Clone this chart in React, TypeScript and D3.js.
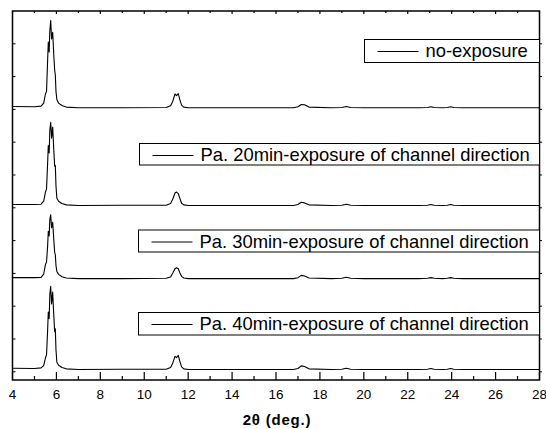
import React from "react";
import * as d3 from "d3";

// 2theta positions (deg.)
const twoTheta = [
  4.0, 5.0, 5.3, 5.42, 5.5, 5.55, 5.6, 5.63, 5.67, 5.7, 5.74, 5.78, 5.83, 5.88, 5.92, 5.95, 5.98, 6.02,
  6.1, 6.25, 6.45, 7.0, 9.0, 11.0, 11.2, 11.3, 11.4, 11.47, 11.55, 11.62, 11.7, 11.8, 12.0, 14.0,
  16.8, 17.0, 17.15, 17.3, 17.5, 18.5, 19.0, 19.2, 19.4, 20.0, 22.5, 22.9, 23.05, 23.2, 23.6, 23.8,
  23.95, 24.1, 24.5, 28.0,
];

// intensities (in tick units above each trace's own baseline)
const noExposure = [
  0.04, 0.03, 0.05, 0.14, 0.42, 0.5, 1.45, 2.0, 1.7, 2.35, 2.66, 2.1, 2.3, 1.6, 1.15, 1.0, 0.5, 0.25,
  0.14, 0.07, 0.02, 0.0, 0.0, 0.01, 0.06, 0.2, 0.42, 0.37, 0.43, 0.25, 0.08, 0.02, 0.0, 0.0,
  0.0, 0.03, 0.1, 0.09, 0.02, 0.0, 0.01, 0.04, 0.01, 0.0, 0.0, 0.01, 0.03, 0.01, 0.0, 0.01,
  0.03, 0.01, 0.0, 0.0,
];
const pa20 = [
  0.03, 0.03, 0.04, 0.13, 0.41, 0.5, 1.3, 1.83, 1.6, 2.3, 2.54, 2.05, 2.39, 1.7, 1.2, 1.22, 0.6, 0.22,
  0.13, 0.06, 0.02, 0.0, 0.01, 0.01, 0.06, 0.2, 0.38, 0.41, 0.36, 0.22, 0.07, 0.02, 0.0, 0.0,
  0.0, 0.03, 0.1, 0.08, 0.02, 0.0, 0.01, 0.04, 0.01, 0.0, 0.0, 0.01, 0.03, 0.01, 0.0, 0.01,
  0.03, 0.01, 0.0, 0.0,
];
const pa30 = [
  0.03, 0.03, 0.04, 0.14, 0.43, 0.5, 1.0, 1.44, 1.3, 1.8, 1.95, 1.55, 1.72, 1.2, 0.8, 0.73, 0.4, 0.22,
  0.13, 0.06, 0.02, 0.0, 0.0, 0.01, 0.05, 0.17, 0.3, 0.33, 0.3, 0.18, 0.07, 0.02, 0.0, 0.0,
  0.0, 0.03, 0.1, 0.08, 0.02, 0.0, 0.01, 0.04, 0.01, 0.0, 0.0, 0.01, 0.03, 0.01, 0.0, 0.01,
  0.03, 0.01, 0.0, 0.0,
];
const pa40 = [
  0.04, 0.03, 0.05, 0.12, 0.35, 0.45, 1.2, 1.75, 1.55, 2.3, 2.54, 2.0, 2.36, 1.65, 1.15, 1.24, 0.6, 0.22,
  0.13, 0.06, 0.02, 0.0, 0.01, 0.01, 0.06, 0.2, 0.4, 0.36, 0.43, 0.25, 0.08, 0.02, 0.0, 0.0,
  0.0, 0.03, 0.11, 0.09, 0.02, 0.0, 0.01, 0.04, 0.01, 0.0, 0.0, 0.01, 0.03, 0.01, 0.0, 0.01,
  0.03, 0.01, 0.0, 0.0,
];

const seriesValues = [noExposure, pa20, pa30, pa40];
const offsets = [8.05, 5.07, 2.84, 0.07];
const legendLabels = [
  "no-exposure",
  "Pa. 20min-exposure of channel direction",
  "Pa. 30min-exposure of channel direction",
  "Pa. 40min-exposure of channel direction",
];

const xMajorTicks = [4, 6, 8, 10, 12, 14, 16, 18, 20, 22, 24, 26, 28];
const xMinorTicks = [5, 7, 9, 11, 13, 15, 17, 19, 21, 23, 25, 27];
const yTicks = [0, 1, 2, 3, 4, 5, 6, 7, 8, 9, 10];

const W = 546;
const H = 429;
const left = 12.5, right = 539.5, top = 11, bottom = 380;

// legend boxes: [x, y, height]
const legendBoxes = [
  [364.5, 39.5, 23],
  [139.5, 143.5, 21.5],
  [138.5, 230, 22],
  [138.5, 312.5, 22.5],
];

export default function App() {
  const x = d3.scaleLinear().domain([4, 28]).range([left, right]);
  const y = d3.scaleLinear().domain([-0.25, 11]).range([bottom, top]);

  const line = (vals: number[], off: number) =>
    d3.line<number>()
      .x((_, i) => x(twoTheta[i]))
      .y((v) => y(v + off))(vals) as string;

  const font = "'Liberation Sans', Arial, sans-serif";

  return (
    <svg width={W} height={H} style={{ position: "absolute", left: 0, top: 0, background: "#fff" }}>
      <rect x={0} y={0} width={W} height={H} fill="#fff" />
      {seriesValues.map((vals, k) => (
        <path key={k} d={line(vals, offsets[k])} fill="none" stroke="#000" strokeWidth={1.1} strokeLinejoin="round" />
      ))}

      {/* frame */}
      <rect x={left} y={top} width={right - left} height={bottom - top} fill="none" stroke="#000" strokeWidth={1.5} />

      {/* bottom / top ticks */}
      {xMajorTicks.map((t) => (
        <g key={"M" + t}>
          <line x1={x(t)} x2={x(t)} y1={bottom} y2={bottom - 8} stroke="#000" strokeWidth={1.2} />
          <line x1={x(t)} x2={x(t)} y1={top} y2={top + 3} stroke="#000" strokeWidth={1.2} />
          <text x={x(t)} y={399} textAnchor="middle" fontFamily={font} fontSize={13.5}>{t}</text>
        </g>
      ))}
      {xMinorTicks.map((t) => (
        <g key={"m" + t}>
          <line x1={x(t)} x2={x(t)} y1={bottom} y2={bottom - 4} stroke="#000" strokeWidth={1.2} />
          <line x1={x(t)} x2={x(t)} y1={top} y2={top + 2} stroke="#000" strokeWidth={1.2} />
        </g>
      ))}

      {/* left / right ticks */}
      {yTicks.map((t) => (
        <g key={"y" + t}>
          <line x1={left} x2={left + 3} y1={y(t)} y2={y(t)} stroke="#000" strokeWidth={1} />
          <line x1={right} x2={right + 2.5} y1={y(t)} y2={y(t)} stroke="#000" strokeWidth={1} />
        </g>
      ))}

      {/* legends */}
      {legendLabels.map((lab, k) => {
        const [bx, by, bh] = legendBoxes[k];
        return (
          <g key={"l" + k}>
            <rect x={bx} y={by} width={right - bx} height={bh} fill="#fff" stroke="#000" strokeWidth={1} />
            <line x1={bx + 13} x2={bx + 54} y1={by + 12} y2={by + 12} stroke="#000" strokeWidth={1.1} />
            <text x={bx + 61} y={by + 17.5} fontFamily={font} fontSize={18.4}>{lab}</text>
          </g>
        );
      })}

      <text x={277} y={425} textAnchor="middle" fontFamily={font} fontSize={15} fontWeight="bold" letterSpacing={0.8}>
        2θ (deg.)
      </text>
    </svg>
  );
}
